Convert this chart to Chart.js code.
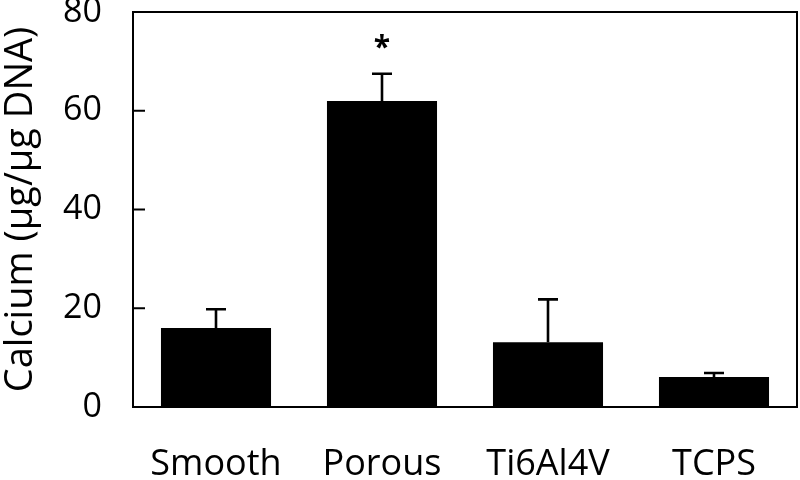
<!DOCTYPE html>
<html>
<head>
<meta charset="utf-8">
<script src="https://cdn.jsdelivr.net/npm/chart.js@4/dist/chart.umd.min.js"></script>
<style>
  html, body { margin: 0; padding: 0; background: #fff; }
  #wrap { width: 800px; height: 480px; }
</style>
</head>
<body>
<div id="wrap"><canvas id="myChart"></canvas></div>
<script>
const groups = ["Smooth", "Porous", "Ti6Al4V", "TCPS"];
const calcium = [16.0, 62.0, 13.1, 6.1];
const calciumErr = [3.8, 5.5, 8.7, 0.8];
const marks = ["", "*", "", ""];
const yTicks = [0, 20, 40, 60, 80];

const fontName = "'Open Sans', sans-serif";

// error bars, star, inward ticks and frame
const extras = {
    id: "extras",
    afterDatasetsDraw(chart) {
        const ctx = chart.ctx;
        const x = chart.scales.x;
        const y = chart.scales.y;
        const area = chart.chartArea;
        ctx.save();
        ctx.strokeStyle = "#000";
        ctx.fillStyle = "#000";

        // error bars
        ctx.lineWidth = 2.6;
        for (let i = 0; i < groups.length; i++) {
            const cx = x.getPixelForValue(i);
            const y0 = y.getPixelForValue(calcium[i]);
            const y1 = y.getPixelForValue(calcium[i] + calciumErr[i]);
            ctx.beginPath();
            ctx.moveTo(cx, y0);
            ctx.lineTo(cx, y1);
            ctx.moveTo(cx - 10, y1);
            ctx.lineTo(cx + 10, y1);
            ctx.stroke();
            if (marks[i]) {
                ctx.font = "bold 30px " + fontName;
                ctx.textAlign = "center";
                ctx.textBaseline = "middle";
                ctx.fillText(marks[i], cx, y.getPixelForValue(calcium[i] + calciumErr[i] + 5.6) + 2);
            }
        }

        // frame
        ctx.lineWidth = 2;
        ctx.strokeRect(area.left, area.top, area.right - area.left, area.bottom - area.top);

        // inward ticks
        yTicks.forEach(v => {
            const py = y.getPixelForValue(v);
            ctx.beginPath();
            ctx.moveTo(area.left, py);
            ctx.lineTo(area.left + 12, py);
            ctx.stroke();
        });
        ctx.restore();
    }
};

new Chart("myChart", {
    type: "bar",
    data: {
        labels: groups,
        datasets: [{
            data: calcium,
            backgroundColor: "#000",
            borderWidth: 0,
            barPercentage: 0.663,
            categoryPercentage: 1.0
        }]
    },
    options: {
        responsive: true,
        maintainAspectRatio: false,
        animation: false,
        layout: { padding: { left: 0, right: 3, top: 12, bottom: 0 } },
        plugins: {
            legend: { display: false },
            tooltip: { enabled: false }
        },
        scales: {
            x: {
                grid: { display: false, drawTicks: false },
                border: { display: false },
                ticks: {
                    color: "#000",
                    padding: 40,
                    maxRotation: 0,
                    autoSkip: false,
                    font: { family: fontName, size: 36, lineHeight: 1 }
                },
                afterFit(scale) {
                    scale.height = 73;
                    scale.paddingLeft = 0;
                    scale.paddingRight = 0;
                }
            },
            y: {
                min: 0,
                max: 80,
                afterBuildTicks(scale) {
                    scale.ticks = yTicks.map(v => ({ value: v }));
                },
                grid: { display: false, drawTicks: false },
                border: { display: false },
                ticks: {
                    color: "#000",
                    padding: 31,
                    font: { family: fontName, size: 34, lineHeight: 1 }
                },
                title: {
                    display: true,
                    text: "Calcium (µg/µg DNA)",
                    color: "#000",
                    padding: { top: 2, bottom: 0 },
                    font: { family: fontName, size: 38, lineHeight: 1 }
                },
                afterFit(scale) {
                    scale.width = 133;
                    scale.paddingTop = 0;
                    scale.paddingBottom = 0;
                }
            }
        }
    },
    plugins: [extras]
});
</script>
</body>
</html>
